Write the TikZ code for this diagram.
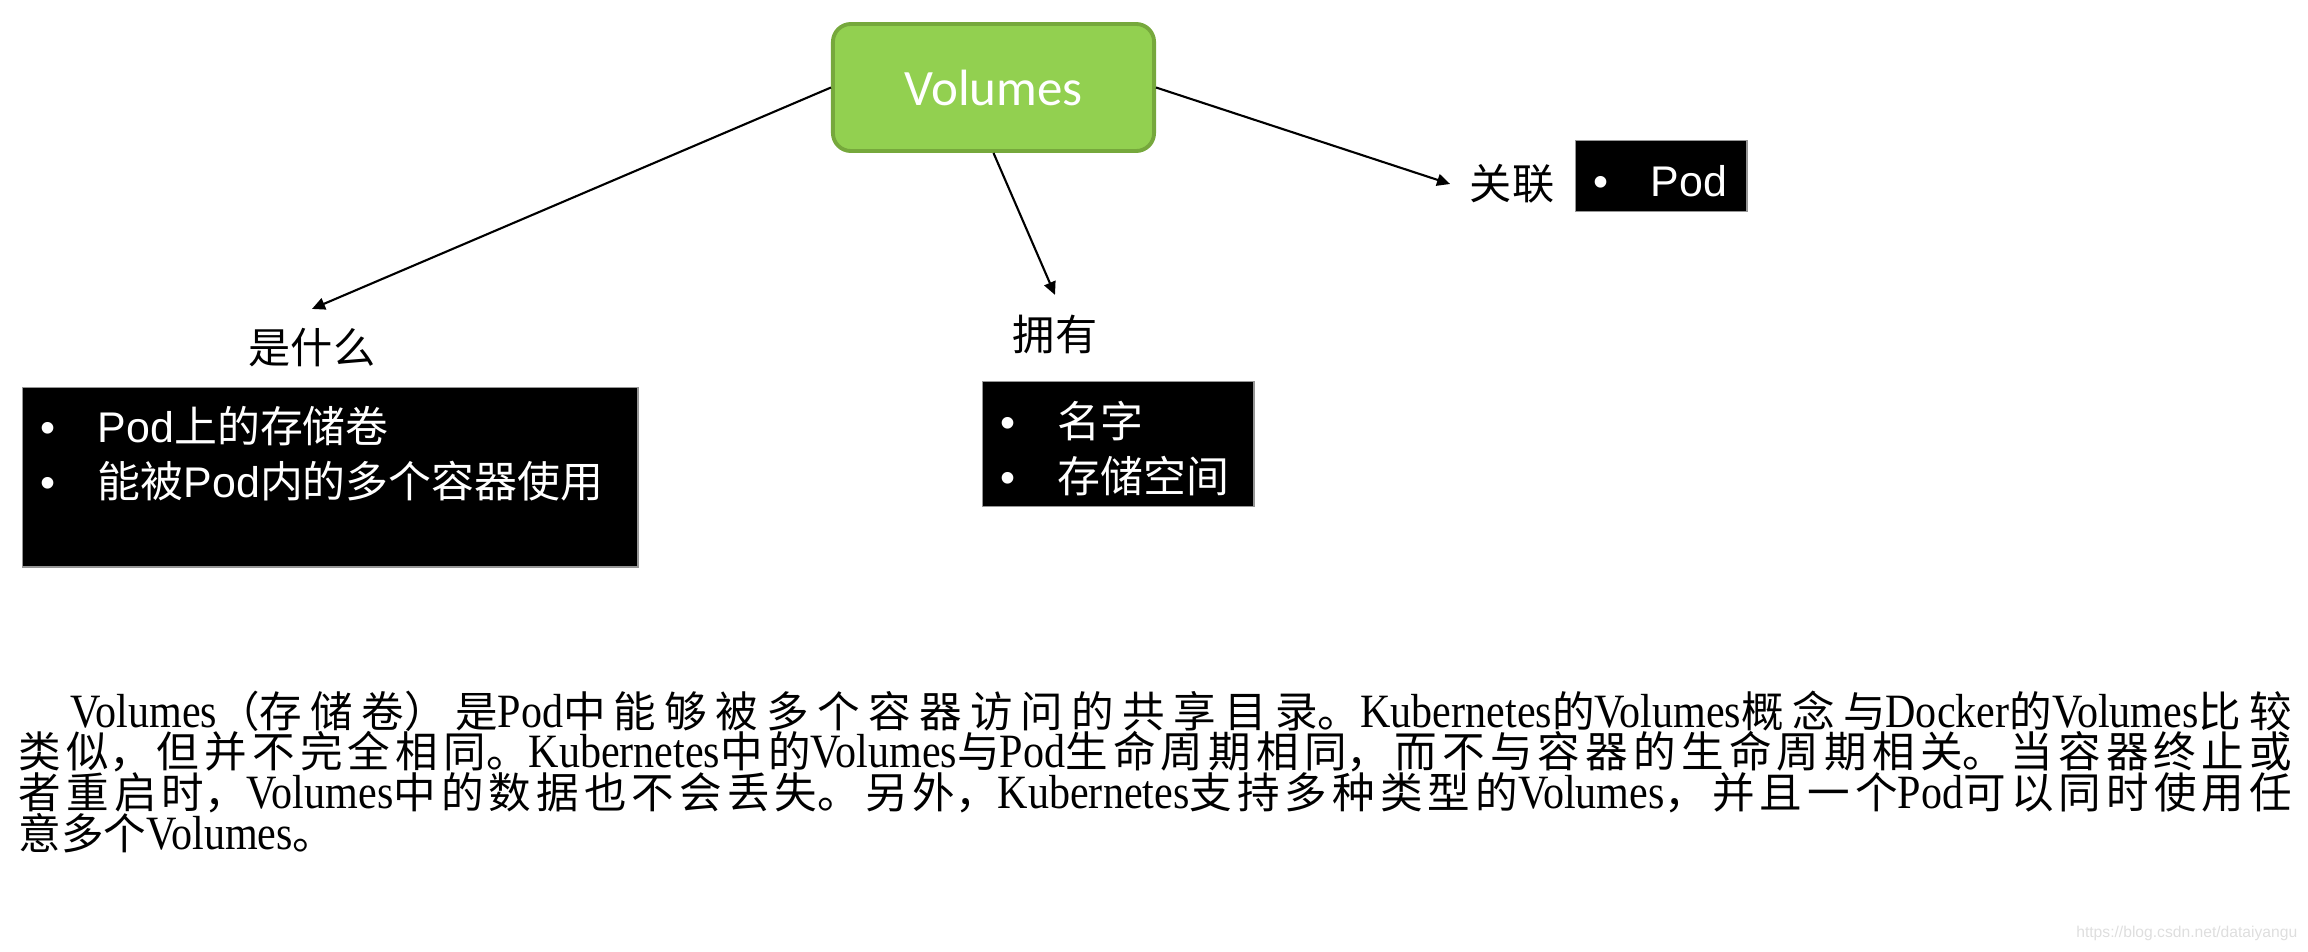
\documentclass[tikz,border=0pt]{standalone}
\usepackage{fontspec}
\setmainfont{Liberation Serif}
\newfontfamily\parafont{Liberation Serif}[FakeStretch=0.88]
\newfontfamily\cjk{Noto Sans CJK SC}
\newfontfamily\cjkpara{Noto Sans CJK SC}[Scale=0.89]
\newfontfamily\arial{Liberation Sans}
\newfontfamily\calibri{Carlito}
\usetikzlibrary{arrows.meta, positioning}
\usepackage{xcolor}
\definecolor{volgreen}{RGB}{146,208,80}
\definecolor{volborder}{RGB}{118,168,60}
\definecolor{boxline}{RGB}{150,150,150}
\definecolor{marktext}{RGB}{222,222,222}
\newcommand{\zh}[1]{{\cjk #1}}
\newcommand{\zp}[1]{{\cjkpara #1}}
\newcommand{\lstrut}{\rule[-0.07cm]{0pt}{0.55cm}}
\newcommand{\bul}{\lstrut\makebox[0.577cm][l]{•}}
\newcommand{\parasetup}{\parafont\fontsize{13.6pt}{11.6pt}\selectfont
  \XeTeXlinebreaklocale "zh"\XeTeXlinebreakskip=0pt plus 3pt\relax
  \baselineskip=11.6pt\relax\lineskiplimit=-20pt\relax\lineskip=0pt\relax}
\tikzset{
  topicbox/.style={
    rectangle, rounded corners=0.18cm, draw=volborder, line width=1.1pt, fill=volgreen,
    text=white, font=\calibri\fontsize{14.5pt}{17pt}\selectfont,
    minimum width=3.21cm, minimum height=1.27cm
  },
  branchlbl/.style={inner sep=0.19cm, font=\cjk\fontsize{12pt}{14pt}\selectfont},
  listbox/.style={
    rectangle, draw=boxline, line width=0.4pt, fill=black, text=white, align=left,
    inner xsep=0.175cm, inner ysep=0pt, anchor=north west,
    font=\arial\fontsize{12.2pt}{15.65pt}\selectfont
  },
  paratext/.style={
    inner sep=0pt, anchor=north west, text width=22.72cm, align=justify
  },
  arrow/.style={-{Triangle[length=3.7pt,width=3.4pt]}, line width=0.6pt, color=black}
}

\begin{document}
\begin{tikzpicture}[x=0.01cm, y=-0.01cm]
  \path[use as bounding box] (0,0) rectangle (2308,952);

  \node[topicbox] (volumes) at (993.5,87.5) {Volumes};

  \node[branchlbl] (whatlbl) at (312,348) {是什么};
  \node[branchlbl] (haslbl) at (1055,334) {拥有};
  \node[branchlbl] (linklbl) at (1512,184) {关联};

  \node[listbox, text width=5.8cm, minimum height=1.79cm] (whatbox) at (22,387)
        {\bul Pod\zh{上的存储卷}\\\bul\zh{能被}Pod\zh{内的多个容器使用}\\\lstrut};
  \node[listbox, text width=2.36cm, minimum height=1.25cm] (hasbox) at (982,381)
        {\bul\zh{名字}\\\bul\zh{存储空间}};
  \node[listbox, text width=1.36cm, minimum height=0.71cm] (podbox) at (1575,140)
        {\bul Pod};

  \draw[arrow] (volumes.west) -- (whatlbl.north);
  \draw[arrow] (volumes.south) -- (haslbl.north);
  \draw[arrow] (volumes.east) -- (linklbl.west);

  \node[paratext] (para) at (18,690) {\parasetup\hspace*{0.52cm}Volumes\zp{（存储卷）是}Pod\zp{中能够被多个容器访问的共享目录。}Kubernetes\zp{的}Volumes\zp{概念与}Docker\zp{的}Volumes\zp{比较\linebreak%
类似，但并不完全相同。}Kubernetes\zp{中的}Volumes\zp{与}Pod\zp{生命周期相同，而不与容器的生命周期相关。当容器终止或\linebreak%
者重启时，}Volumes\zp{中的数据也不会丢失。另外，}Kubernetes\zp{支持多种类型的}Volumes\zp{，并且一个}Pod\zp{可以同时使用任\linebreak%
意多个}Volumes\zp{。}\par};

  \node[anchor=east, inner sep=0pt, text=marktext, font=\arial\fontsize{4.45pt}{5pt}\selectfont] (mark)
        at (2298,933) {https://blog.csdn.net/dataiyangu};
\end{tikzpicture}
\end{document}
